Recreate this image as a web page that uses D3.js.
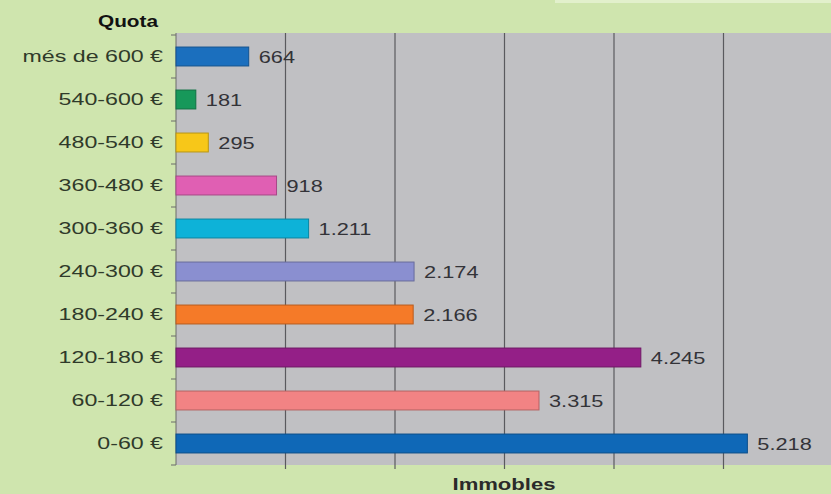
<!DOCTYPE html>
<html>
<head>
<meta charset="utf-8">
<script src="https://cdn.jsdelivr.net/npm/d3@7"></script>
<style>
  body { margin: 0; background: #cfe5ae; }
  text { font-family: "Liberation Sans", Arial, sans-serif; }
</style>
</head>
<body>
<script>
// Quota bands, top to bottom as drawn
const categories = ['més de 600 €', '540-600 €', '480-540 €', '360-480 €', '300-360 €',
  '240-300 €', '180-240 €', '120-180 €', '60-120 €', '0-60 €']
const values = [664, 181, 295, 918, 1211, 2174, 2166, 4245, 3315, 5218]
const colors = ['#1b6fbe', '#17985a', '#f7c719', '#e05fb3', '#0db2d8',
  '#8a8fd0', '#f57a28', '#941f87', '#f28384', '#0f68b7']
const xTicks = [0, 1000, 2000, 3000, 4000, 5000, 6000]

const width = 831
const height = 494
const plotTop = 33
const bandTop = 35
const bandBottom = 465
const left = 176

const svg = d3.select('body').append('svg').attr('width', width).attr('height', height)

svg.append('rect').attr('width', width).attr('height', height).attr('fill', '#cfe5ae')
// faint lighter strip at the top right
svg.append('rect').attr('x', 555).attr('y', 0).attr('width', 276).attr('height', 3).attr('fill', '#e2f0cc')

const x = d3.scaleLinear().domain([0, 6000]).range([left, 833])
const y = d3.scaleBand().domain(categories).range([bandTop, bandBottom]).paddingInner(0.56).paddingOuter(0.28)

const fmt = d3.formatLocale({ decimal: ',', thousands: '.', grouping: [3], currency: ['', ' €'] }).format(',d')

// plot background
svg.append('rect')
	.attr('x', left)
	.attr('y', plotTop)
	.attr('width', width - left)
	.attr('height', bandBottom - plotTop)
	.attr('fill', '#c0c0c3')

// vertical gridlines
svg.selectAll('.grid')
	.data(xTicks.slice(1, -1))
	.enter()
	.append('line')
	.attr('x1', d => x(d))
	.attr('x2', d => x(d))
	.attr('y1', plotTop)
	.attr('y2', bandBottom + 4)
	.attr('stroke', '#5a5a5e')
	.attr('stroke-width', 1.2)

// left axis line with ticks between bands
svg.append('line')
	.attr('x1', left).attr('x2', left)
	.attr('y1', plotTop).attr('y2', bandBottom)
	.attr('stroke', '#6a6a6a').attr('stroke-width', 1)

const step = y.step()
const boundaries = d3.range(categories.length + 1).map(i => bandTop + i * step)
svg.selectAll('.ytick')
	.data(boundaries)
	.enter()
	.append('line')
	.attr('x1', left - 5).attr('x2', left)
	.attr('y1', d => d).attr('y2', d => d)
	.attr('stroke', '#6a6a6a')

// bars
svg.selectAll('.bar')
	.data(values)
	.enter()
	.append('rect')
	.attr('x', x(0))
	.attr('y', (d, i) => y(categories[i]))
	.attr('width', d => x(d) - x(0))
	.attr('height', y.bandwidth())
	.attr('fill', (d, i) => colors[i])
	.attr('stroke', (d, i) => d3.color(colors[i]).darker(0.8))
	.attr('stroke-width', 1)

// value labels (the original is stretched sideways)
svg.selectAll('.val')
	.data(values)
	.enter()
	.append('text')
	.attr('transform', (d, i) => `translate(${x(d) + 10},${y(categories[i]) + y.bandwidth() / 2}) scale(1.28,1)`)
	.attr('dy', '0.36em')
	.attr('font-size', 17)
	.attr('fill', '#333338')
	.text(d => fmt(d))

// category labels
svg.selectAll('.cat')
	.data(categories)
	.enter()
	.append('text')
	.attr('transform', d => `translate(${left - 13},${y(d) + y.bandwidth() / 2}) scale(1.45,1)`)
	.attr('dy', '0.36em')
	.attr('text-anchor', 'end')
	.attr('font-size', 16)
	.attr('fill', '#2f3a2a')
	.text(d => d)

// titles
svg.append('text')
	.attr('transform', 'translate(128,27) scale(1.3,1)')
	.attr('text-anchor', 'middle')
	.attr('font-size', 16).attr('font-weight', 'bold')
	.attr('fill', '#111')
	.text('Quota')

svg.append('text')
	.attr('transform', 'translate(504,490) scale(1.38,1)')
	.attr('text-anchor', 'middle')
	.attr('font-size', 16).attr('font-weight', 'bold')
	.attr('fill', '#2a2a2a')
	.text('Immobles')
</script>
</body>
</html>
